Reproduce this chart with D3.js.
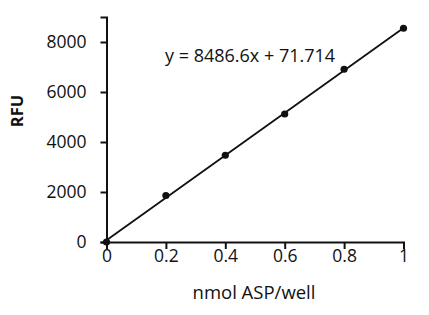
<!DOCTYPE html>
<html>
<head>
<meta charset="utf-8">
<script src="https://cdn.jsdelivr.net/npm/d3@7"></script>
<style>
  body { margin: 0; background: #fff; }
  text { font-family: "Open Sans", "Liberation Sans", sans-serif; fill: #111; }
</style>
</head>
<body>
<div id="canvas"></div>
<script>
// standard curve values
var amounts = [0, 0.2, 0.4, 0.6, 0.8, 1];
var rfu = [0, 1860, 3470, 5120, 6910, 8550];

var xTicks = [0, 0.2, 0.4, 0.6, 0.8, 1];
var yTicks = [0, 2000, 4000, 6000, 8000];

var slope = 8486.6;
var intercept = 71.714;

var width = 429, height = 315;
var plotLeft = 106.5, plotRight = 403.5, plotTop = 17, plotBottom = 242;

var svg = d3.select("#canvas")
  .append("svg")
  .attr("width", width)
  .attr("height", height);

var x = d3.scaleLinear().domain([0, 1]).range([plotLeft, plotRight]);
var y = d3.scaleLinear().domain([0, 9000]).range([plotBottom, plotTop]);

// y axis
var yAxis = svg.append("g")
  .attr("transform", "translate(" + plotLeft + ",0)")
  .call(d3.axisLeft(y).tickValues(yTicks).tickSize(6).tickPadding(14).tickFormat(d3.format("d")));
yAxis.selectAll("text").style("font-size", "17.5px");

// x axis, ticks point down
var xAxis = svg.append("g")
  .attr("transform", "translate(0," + plotBottom + ")")
  .call(d3.axisBottom(x).tickValues(xTicks).tickSize(7).tickPadding(1).tickFormat(function(d) { return d; }));
xAxis.selectAll("text").style("font-size", "17.5px");

svg.selectAll(".domain, .tick line")
  .attr("stroke", "#111")
  .attr("stroke-width", 2);

// trend line from the fit
svg.append("line")
  .attr("x1", x(0)).attr("y1", y(intercept))
  .attr("x2", x(1)).attr("y2", y(slope + intercept))
  .attr("stroke", "#111")
  .attr("stroke-width", 1.8);

svg.selectAll("circle")
  .data(amounts)
  .enter()
    .append("circle")
    .attr("cx", function(d) { return x(d); })
    .attr("cy", function(d, i) { return y(rfu[i]); })
    .attr("r", 3.6)
    .attr("fill", "#111");

svg.append("text")
  .attr("x", 165)
  .attr("y", 61.5)
  .style("font-size", "18px")
  .text("y = " + slope + "x + " + intercept);

svg.append("text")
  .attr("x", 254)
  .attr("y", 299)
  .attr("text-anchor", "middle")
  .style("font-size", "18.5px")
  .text("nmol ASP/well");

svg.append("text")
  .attr("transform", "translate(23,111) rotate(-90)")
  .attr("text-anchor", "middle")
  .style("font-size", "16.5px")
  .style("font-weight", "bold")
  .text("RFU");
</script>
</body>
</html>
